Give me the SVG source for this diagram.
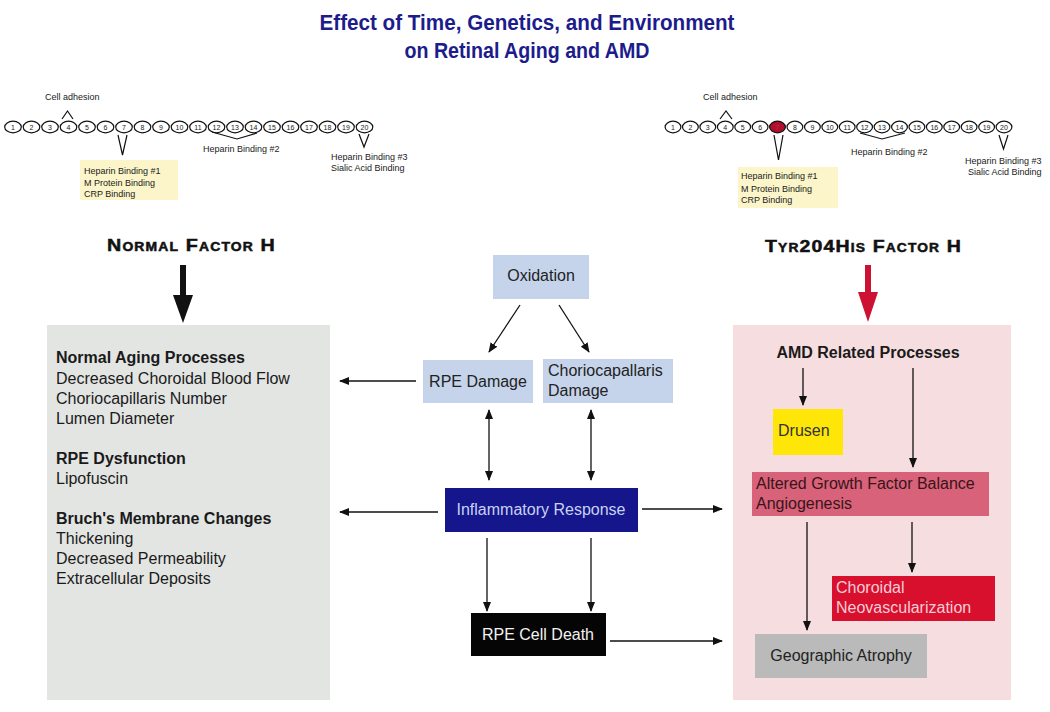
<svg xmlns="http://www.w3.org/2000/svg" width="1050" height="712" viewBox="0 0 1050 712">
<style>
text{font-family:"Liberation Sans",Arial,sans-serif;}
.title{font-family:"Liberation Sans Narrow","Liberation Sans",Arial,sans-serif;font-weight:bold;font-size:22px;fill:#1c1c8c;text-anchor:middle;}
.sm{font-size:9px;fill:#222;}
.num{font-size:7px;fill:#222;text-anchor:middle;}
.ov{fill:#fff;stroke:#111;stroke-width:1.2;}
.mk{fill:none;stroke:#111;stroke-width:1.2;}
.head{font-weight:bold;font-size:17px;fill:#111;stroke:#111;stroke-width:0.5;font-variant:small-caps;letter-spacing:1px;}
.body{font-size:16px;}
.b{font-weight:bold;}
.c{text-anchor:middle;}
.dk{fill:#1a1a1a;}
.conn line{stroke:#111;stroke-width:1.3;}
</style>
<defs>
<marker id="ah" viewBox="0 0 10 8" refX="9" refY="4" markerWidth="10" markerHeight="8" markerUnits="userSpaceOnUse" orient="auto-start-reverse">
<path d="M0,0 L10,4 L0,8 z" fill="#111"/>
</marker>
<ellipse id="ovl" class="ov" rx="8.3" ry="5.8"/>
<ellipse id="ovr" class="ov" rx="7.9" ry="5.8"/>
</defs>
<rect width="1050" height="712" fill="#fff"/>

<g id="title">
<text class="title" x="527" y="30" textLength="415" lengthAdjust="spacingAndGlyphs">Effect of Time, Genetics, and Environment</text>
<text class="title" x="527" y="58" textLength="245" lengthAdjust="spacingAndGlyphs">on Retinal Aging and AMD</text>
</g>

<g id="chain-normal">
<text class="sm" x="45" y="100">Cell adhesion</text>
<polyline class="mk" points="62,119 67.5,111 73,119"/>
<g transform="translate(13,127)"><use href="#ovl"/><text class="num" y="2.5">1</text></g>
<g transform="translate(31.5,127)"><use href="#ovl"/><text class="num" y="2.5">2</text></g>
<g transform="translate(50,127)"><use href="#ovl"/><text class="num" y="2.5">3</text></g>
<g transform="translate(68.5,127)"><use href="#ovl"/><text class="num" y="2.5">4</text></g>
<g transform="translate(87,127)"><use href="#ovl"/><text class="num" y="2.5">5</text></g>
<g transform="translate(105.5,127)"><use href="#ovl"/><text class="num" y="2.5">6</text></g>
<g transform="translate(124,127)"><use href="#ovl"/><text class="num" y="2.5">7</text></g>
<g transform="translate(142.5,127)"><use href="#ovl"/><text class="num" y="2.5">8</text></g>
<g transform="translate(161,127)"><use href="#ovl"/><text class="num" y="2.5">9</text></g>
<g transform="translate(179.5,127)"><use href="#ovl"/><text class="num" y="2.5">10</text></g>
<g transform="translate(198,127)"><use href="#ovl"/><text class="num" y="2.5">11</text></g>
<g transform="translate(216.5,127)"><use href="#ovl"/><text class="num" y="2.5">12</text></g>
<g transform="translate(235,127)"><use href="#ovl"/><text class="num" y="2.5">13</text></g>
<g transform="translate(253.5,127)"><use href="#ovl"/><text class="num" y="2.5">14</text></g>
<g transform="translate(272,127)"><use href="#ovl"/><text class="num" y="2.5">15</text></g>
<g transform="translate(290.5,127)"><use href="#ovl"/><text class="num" y="2.5">16</text></g>
<g transform="translate(309,127)"><use href="#ovl"/><text class="num" y="2.5">17</text></g>
<g transform="translate(327.5,127)"><use href="#ovl"/><text class="num" y="2.5">18</text></g>
<g transform="translate(346,127)"><use href="#ovl"/><text class="num" y="2.5">19</text></g>
<g transform="translate(364.5,127)"><use href="#ovl"/><text class="num" y="2.5">20</text></g>
<polyline class="mk" points="118,135 122.5,155 127,135"/>
<rect x="80" y="160" width="98" height="40" fill="#fbf5c9"/>
<text class="sm" x="84" y="174">Heparin Binding  #1</text>
<text class="sm" x="84" y="186">M Protein Binding</text>
<text class="sm" x="84" y="197">CRP Binding</text>
<polyline class="mk" points="212,132 237,139 257,133"/>
<text class="sm" x="203" y="152">Heparin Binding #2</text>
<polyline class="mk" points="359,134 364,147 369,134"/>
<text class="sm" x="331" y="160">Heparin Binding #3</text>
<text class="sm" x="331" y="171">Sialic Acid Binding</text>
</g>

<g id="chain-variant">
<text class="sm" x="703" y="100">Cell adhesion</text>
<polyline class="mk" points="720,119 726,111 732,119"/>
<g transform="translate(673,127)"><use href="#ovr"/><text class="num" y="2.5">1</text></g>
<g transform="translate(690.4,127)"><use href="#ovr"/><text class="num" y="2.5">2</text></g>
<g transform="translate(707.8,127)"><use href="#ovr"/><text class="num" y="2.5">3</text></g>
<g transform="translate(725.3,127)"><use href="#ovr"/><text class="num" y="2.5">4</text></g>
<g transform="translate(742.7,127)"><use href="#ovr"/><text class="num" y="2.5">5</text></g>
<g transform="translate(760.1,127)"><use href="#ovr"/><text class="num" y="2.5">6</text></g>
<g transform="translate(777.5,127)"><ellipse rx="7.9" ry="5.8" fill="#b0102c" stroke="#111" stroke-width="1.2"/><text class="num" y="2.5" style="fill:#c83050">7</text></g>
<g transform="translate(794.9,127)"><use href="#ovr"/><text class="num" y="2.5">8</text></g>
<g transform="translate(812.4,127)"><use href="#ovr"/><text class="num" y="2.5">9</text></g>
<g transform="translate(829.8,127)"><use href="#ovr"/><text class="num" y="2.5">10</text></g>
<g transform="translate(847.2,127)"><use href="#ovr"/><text class="num" y="2.5">11</text></g>
<g transform="translate(864.6,127)"><use href="#ovr"/><text class="num" y="2.5">12</text></g>
<g transform="translate(882,127)"><use href="#ovr"/><text class="num" y="2.5">13</text></g>
<g transform="translate(899.5,127)"><use href="#ovr"/><text class="num" y="2.5">14</text></g>
<g transform="translate(916.9,127)"><use href="#ovr"/><text class="num" y="2.5">15</text></g>
<g transform="translate(934.3,127)"><use href="#ovr"/><text class="num" y="2.5">16</text></g>
<g transform="translate(951.7,127)"><use href="#ovr"/><text class="num" y="2.5">17</text></g>
<g transform="translate(969.1,127)"><use href="#ovr"/><text class="num" y="2.5">18</text></g>
<g transform="translate(986.6,127)"><use href="#ovr"/><text class="num" y="2.5">19</text></g>
<g transform="translate(1004,127)"><use href="#ovr"/><text class="num" y="2.5">20</text></g>
<polyline class="mk" points="774,135 778.5,160 783,135"/>
<rect x="738" y="167" width="100" height="41" fill="#fbf5c9"/>
<text class="sm" x="741" y="179">Heparin Binding  #1</text>
<text class="sm" x="741" y="192">M Protein Binding</text>
<text class="sm" x="741" y="203">CRP Binding</text>
<polyline class="mk" points="860,133 882,139 905,133"/>
<text class="sm" x="851" y="155">Heparin Binding #2</text>
<polyline class="mk" points="999,135 1003.5,149 1008,135"/>
<text class="sm" x="965" y="164">Heparin Binding #3</text>
<text class="sm" x="968" y="175">Sialic Acid Binding</text>
</g>

<g id="heading-normal">
<text class="head" x="107" y="251" textLength="169" lengthAdjust="spacingAndGlyphs">Normal Factor H</text>
<rect x="180" y="265" width="6" height="31" fill="#111"/>
<polygon points="173,295 193,295 183,323" fill="#111"/>
</g>
<g id="heading-variant">
<text class="head" x="765" y="252" textLength="197" lengthAdjust="spacingAndGlyphs">Tyr204His Factor H</text>
<rect x="865" y="265" width="6" height="28" fill="#cc1133"/>
<polygon points="858,292 878,292 868,322" fill="#cc1133"/>
</g>

<g id="normal-aging">
<rect x="47" y="325" width="283" height="375" fill="#e3e5e3"/>
<text class="body b dk" x="56" y="363">Normal Aging Processes</text>
<text class="body dk" x="56" y="384">Decreased Choroidal Blood Flow</text>
<text class="body dk" x="56" y="404">Choriocapillaris Number</text>
<text class="body dk" x="56" y="424">Lumen Diameter</text>
<text class="body b dk" x="56" y="464">RPE Dysfunction</text>
<text class="body dk" x="56" y="484">Lipofuscin</text>
<text class="body b dk" x="56" y="524">Bruch's Membrane Changes</text>
<text class="body dk" x="56" y="544">Thickening</text>
<text class="body dk" x="56" y="564">Decreased Permeability</text>
<text class="body dk" x="56" y="584">Extracellular Deposits</text>
</g>

<g id="amd-processes">
<rect x="733" y="325" width="278" height="375" fill="#f6dde0"/>
<text class="body b c dk" x="868" y="358">AMD Related Processes</text>
</g>
<g id="drusen">
<rect x="773" y="409" width="70" height="46" fill="#fde608"/>
<text class="body" x="778" y="436" style="fill:#333">Drusen</text>
</g>
<g id="altered-growth">
<rect x="752" y="472" width="237" height="44" fill="#d7627a"/>
<text class="body" x="756" y="489" style="fill:#3a1418">Altered Growth Factor Balance</text>
<text class="body" x="756" y="509" style="fill:#3a1418">Angiogenesis</text>
</g>
<g id="choroidal-neo">
<rect x="832" y="576" width="163" height="45" fill="#d8102e"/>
<text class="body" x="836" y="593" style="fill:#f6ccd6">Choroidal</text>
<text class="body" x="836" y="613" style="fill:#f6ccd6">Neovascularization</text>
</g>
<g id="geographic-atrophy">
<rect x="755" y="634" width="172" height="44" fill="#b9bab9"/>
<text class="body c" x="841" y="661" style="fill:#222">Geographic Atrophy</text>
</g>

<g id="oxidation">
<rect x="493" y="255" width="96" height="44" fill="#c6d4eb"/>
<text class="body c" x="541" y="281" style="fill:#222">Oxidation</text>
</g>
<g id="rpe-damage">
<rect x="423" y="360" width="110" height="43" fill="#c6d4eb"/>
<text class="body c" x="478" y="387" style="fill:#222">RPE Damage</text>
</g>
<g id="chorio-damage">
<rect x="543" y="359" width="130" height="44" fill="#c6d4eb"/>
<text class="body" x="548" y="376" style="fill:#222">Choriocapallaris</text>
<text class="body" x="548" y="396" style="fill:#222">Damage</text>
</g>
<g id="inflammatory">
<rect x="445" y="488" width="193" height="44" fill="#15158c"/>
<text class="body c" x="541" y="515" style="fill:#c8d2f2">Inflammatory Response</text>
</g>
<g id="rpe-cell-death">
<rect x="471" y="613" width="135" height="43" fill="#050505"/>
<text class="body c" x="538" y="640" style="fill:#f2f2f2">RPE Cell Death</text>
</g>

<g id="connectors" class="conn">
<line x1="520" y1="305" x2="489" y2="352" marker-end="url(#ah)"/>
<line x1="559" y1="305" x2="589" y2="352" marker-end="url(#ah)"/>
<line x1="416" y1="381" x2="340" y2="381" marker-end="url(#ah)"/>
<line x1="489" y1="410" x2="489" y2="480" marker-start="url(#ah)" marker-end="url(#ah)"/>
<line x1="591" y1="410" x2="591" y2="480" marker-start="url(#ah)" marker-end="url(#ah)"/>
<line x1="438" y1="512" x2="340" y2="512" marker-end="url(#ah)"/>
<line x1="642" y1="509" x2="722" y2="509" marker-end="url(#ah)"/>
<line x1="487" y1="538" x2="487" y2="611" marker-end="url(#ah)"/>
<line x1="591" y1="538" x2="591" y2="611" marker-end="url(#ah)"/>
<line x1="610" y1="641" x2="722" y2="641" marker-end="url(#ah)"/>
<line x1="803" y1="368" x2="803" y2="405" marker-end="url(#ah)"/>
<line x1="913" y1="368" x2="913" y2="467" marker-end="url(#ah)"/>
<line x1="807" y1="522" x2="807" y2="630" marker-end="url(#ah)"/>
<line x1="912" y1="522" x2="912" y2="572" marker-end="url(#ah)"/>
</g>
</svg>
